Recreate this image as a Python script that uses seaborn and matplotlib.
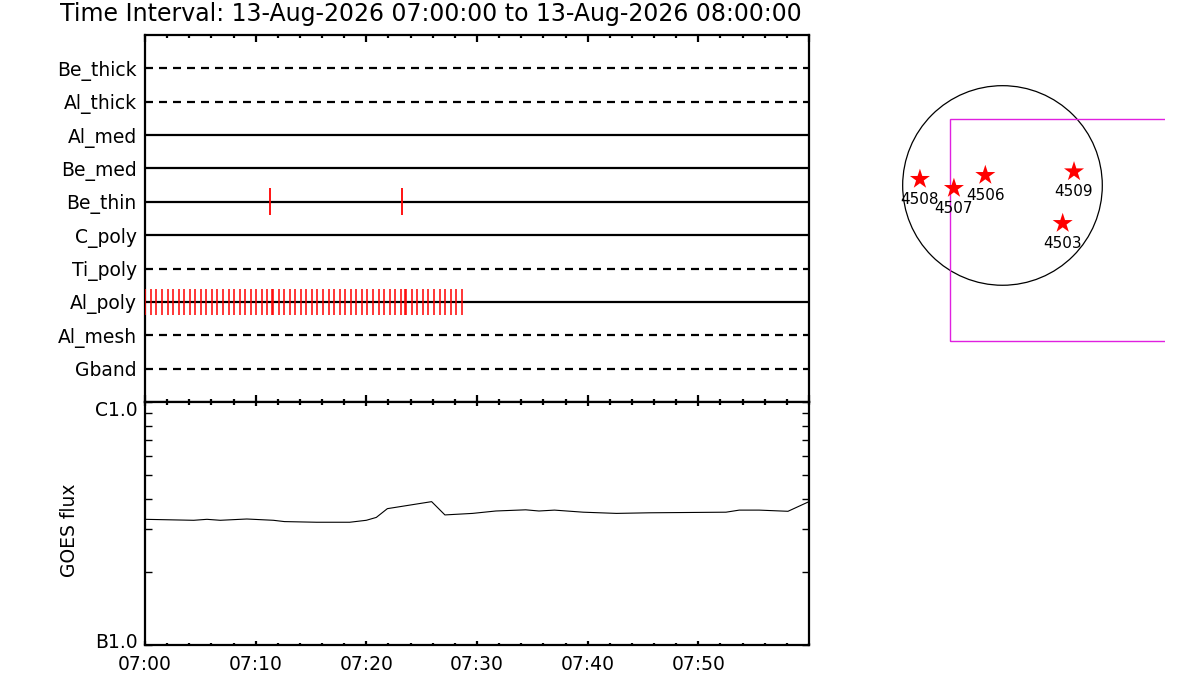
import numpy as np
import pandas as pd
import matplotlib
matplotlib.use("Agg")
import matplotlib.pyplot as plt
import matplotlib.ticker as mticker
import matplotlib.transforms as mtrans
from matplotlib.patches import Circle, Rectangle
import seaborn as sns

# ---------------- data ----------------
title_text = "Time Interval: 13-Aug-2026 07:00:00 to 13-Aug-2026 08:00:00"

filters = ["Be_thick", "Al_thick", "Al_med", "Be_med", "Be_thin",
           "C_poly", "Ti_poly", "Al_poly", "Al_mesh", "Gband"]
filter_dashed = [True, True, False, False, False, False, True, False, True, True]

# exposure times, seconds after 07:00:00
be_thin_times_s = [677, 1395]
al_poly_times_s = [2, 32, 62, 92, 122, 153, 183, 213, 243, 273, 303, 333, 363,
                   393, 423, 454, 484, 514, 544, 574, 604, 634, 664, 688, 694,
                   724, 755, 785, 815, 845, 875, 905, 935, 965, 995, 1025, 1056,
                   1086, 1116, 1146, 1176, 1206, 1236, 1266, 1296, 1326, 1357,
                   1387, 1411, 1417, 1447, 1477, 1507, 1537, 1567, 1597, 1627,
                   1658, 1688, 1718]

# GOES flux (minutes after 07:00, W/m^2)
goes_minutes = [0, 4.4, 5.6, 6.8, 9.2, 11.6, 12.6, 15.5, 18.5, 20.0, 20.9, 21.9,
                25.9, 27.1, 29.6, 31.7, 34.4, 35.6, 37.0, 39.6, 42.6, 45.6,
                52.5, 53.7, 55.5, 58.1, 60.0]
goes_flux = [3.29e-6, 3.26e-6, 3.29e-6, 3.26e-6, 3.30e-6, 3.26e-6, 3.22e-6,
             3.20e-6, 3.20e-6, 3.26e-6, 3.35e-6, 3.64e-6, 3.89e-6, 3.43e-6,
             3.48e-6, 3.56e-6, 3.60e-6, 3.56e-6, 3.59e-6, 3.52e-6, 3.48e-6,
             3.50e-6, 3.52e-6, 3.59e-6, 3.59e-6, 3.55e-6, 3.89e-6]

time_tick_minutes = [0, 10, 20, 30, 40, 50]
time_tick_labels = ["07:00", "07:10", "07:20", "07:30", "07:40", "07:50"]
flux_tick_values = [1e-6, 1e-5]
flux_tick_labels = ["B1.0", "C1.0"]

# active regions (arcsec from disk centre)
ar_numbers = ["4508", "4507", "4506", "4509", "4503"]
ar_x = [-794, -467, -165, 688, 579]
ar_y = [60, -27, 98, 133, -364]
sun_radius = 960
fov_x0, fov_y0, fov_w, fov_h = -507, -1496, 3000, 2133

# ---------------- style ----------------
sns.set_style("white")
plt.rcParams["font.family"] = ["DejaVu Sans"]
plt.rcParams["text.color"] = "black"
plt.rcParams["axes.labelcolor"] = "black"
plt.rcParams["xtick.color"] = "black"
plt.rcParams["ytick.color"] = "black"
plt.rcParams["xtick.labelcolor"] = "black"
plt.rcParams["ytick.labelcolor"] = "black"

W, H = 1200, 700
fig = plt.figure(figsize=(W / 100, H / 100), dpi=100)

def px_axes(x0, y0, x1, y1):
    return fig.add_axes([x0 / W, 1 - y1 / H, (x1 - x0) / W, (y1 - y0) / H])

ax1 = px_axes(145, 35, 809, 402)
ax2 = px_axes(145, 402, 809, 645)
ax3 = px_axes(880, 60, 1165, 360)

label_fs = 13.5
frame_lw = 1.6

# ---------------- top panel: filter timeline ----------------
n = len(filters)
row_y = {name: n - i for i, name in enumerate(filters)}
for name, dashed in zip(filters, filter_dashed):
    if dashed:
        ax1.axhline(row_y[name], color="black", lw=1.6, dashes=(3.6, 2.7))
    else:
        ax1.axhline(row_y[name], color="black", lw=1.6)

def add_exposures(times_s, name, lw):
    y = row_y[name]
    t_min = np.asarray(times_s) / 60.0
    ax1.vlines(t_min, y - 0.4, y + 0.4, color="red", lw=lw, zorder=3)

add_exposures(be_thin_times_s, "Be_thin", 1.3)
add_exposures(al_poly_times_s, "Al_poly", 1.1)

ax1.set_xlim(0, 60)
ax1.set_ylim(0, n + 1)
ax1.set_yticks([row_y[f] for f in filters])
ax1.set_yticklabels(filters, fontsize=label_fs, color="black")
ax1.tick_params(axis="y", length=0, pad=6)
ax1.xaxis.set_major_locator(mticker.MultipleLocator(10))
ax1.xaxis.set_minor_locator(mticker.MultipleLocator(2))
ax1.tick_params(axis="x", which="both", direction="in", top=True, bottom=True,
                labelbottom=False, width=1.6, color="black")
ax1.tick_params(axis="x", which="major", length=5)
ax1.tick_params(axis="x", which="minor", length=2.5)
for sp in ax1.spines.values():
    sp.set_linewidth(frame_lw)
    sp.set_color("black")

# ---------------- GOES panel ----------------
goes_df = pd.DataFrame({"minute": goes_minutes, "flux": goes_flux})
sns.lineplot(data=goes_df, x="minute", y="flux", ax=ax2, color="black",
             lw=0.8, estimator=None)
ax2.set_yscale("log")
ax2.set_xlim(0, 60)
ax2.set_ylim(1e-6, 1e-5)
ax2.set_xticks(time_tick_minutes)
ax2.set_xticklabels(time_tick_labels, fontsize=label_fs, color="black")
ax2.xaxis.set_minor_locator(mticker.MultipleLocator(2))
ax2.tick_params(axis="x", which="both", direction="in", top=True, bottom=True,
                width=1.6, pad=7, color="black")
ax2.tick_params(axis="x", which="major", length=3)
ax2.tick_params(axis="x", which="minor", length=1.8)
ax2.yaxis.set_major_locator(mticker.FixedLocator(flux_tick_values))
ax2.yaxis.set_major_formatter(mticker.FixedFormatter(flux_tick_labels))
ax2.yaxis.set_minor_locator(mticker.LogLocator(base=10, subs=np.arange(2, 10)))
ax2.yaxis.set_minor_formatter(mticker.NullFormatter())
ax2.tick_params(axis="y", which="both", direction="in", left=True, right=True,
                labelsize=label_fs, labelcolor="black", pad=5, color="black")
ax2.tick_params(axis="y", which="major", length=5, width=1)
ax2.tick_params(axis="y", which="minor", length=5, width=1)
ax2.set_xlabel("")
ax2.set_ylabel("GOES flux", fontsize=label_fs, color="black")
ax2.yaxis.set_label_coords(-0.099, 0.473)
for sp in ax2.spines.values():
    sp.set_linewidth(frame_lw)
    sp.set_color("black")

# nudge the B/C labels inside the range like the reference
for lab, dy in zip(ax2.get_yticklabels(), [5, -6]):
    lab.set_transform(lab.get_transform() +
                      mtrans.ScaledTranslation(0, dy / 100, fig.dpi_scale_trans))

# ---------------- right panel: disk + active regions ----------------
ax3.set_xlim(-1178, 1563)
ax3.set_ylim(-1679, 1207)
ax3.axis("off")
ax3.add_patch(Circle((0, 0), sun_radius, fill=False, ec="black", lw=0.9))
ax3.add_patch(Rectangle((fov_x0, fov_y0), fov_w, fov_h, fill=False,
                        ec="#e020e0", lw=1.0, clip_on=True))
ar_df = pd.DataFrame({"x": ar_x, "y": ar_y, "num": ar_numbers})
sns.scatterplot(data=ar_df, x="x", y="y", ax=ax3, marker="*", s=230,
                color="red", edgecolor="none", legend=False, zorder=3)
for xx, yy, num in zip(ar_x, ar_y, ar_numbers):
    ax3.text(xx, yy - 192, num, ha="center", va="center", fontsize=11,
             color="black", zorder=4)
ax3.set_xlabel("")
ax3.set_ylabel("")

# ---------------- title ----------------
fig.text(60 / W, 1 - 20.7 / H, title_text, ha="left", va="baseline",
         fontsize=17, color="black")

fig.savefig("out.png", dpi=100, facecolor="white")
